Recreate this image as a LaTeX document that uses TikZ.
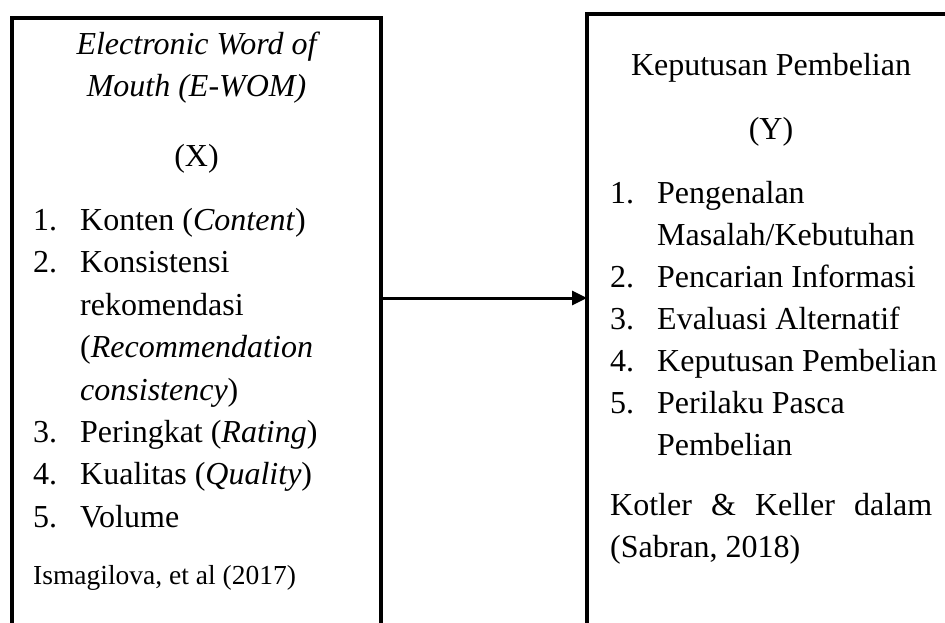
\documentclass[tikz,border=0pt]{standalone}
\usepackage{fontspec}
\setmainfont{Liberation Serif}
\usetikzlibrary{arrows.meta}
\begin{document}
\begin{tikzpicture}[x=1pt,y=-1pt,
  box/.style={draw=black, line width=3.8pt, inner sep=0pt, outer sep=0pt, anchor=north west},
  txt/.style={anchor=base west, inner sep=0pt, font=\fontsize{32}{42}\selectfont},
  ctr/.style={anchor=base, inner sep=0pt, font=\fontsize{32}{42}\selectfont},
  small/.style={anchor=base west, inner sep=0pt, font=\fontsize{27.5}{42}\selectfont},
  conn/.style={line width=3pt, -{Triangle[length=15pt,width=14pt]}}]
\useasboundingbox (0,0) rectangle (945,623);
\clip (0,0) rectangle (945,623);
% boxes
\node[box, minimum width=369pt, minimum height=700pt] (lbox) at (12,18) {};
\node[box, minimum width=500pt, minimum height=700pt] (rbox) at (587,14) {};
% connector
\coordinate (ay) at (0,298);
\draw[conn] (lbox.east |- ay) -- (rbox.west |- ay);
% left box text
\node[ctr] (lt1) at (196.5,55) {\itshape Electronic Word of};
\node[ctr] (lt2) at (196.5,97) {\itshape Mouth (E-WOM)};
\node[ctr] (lt3) at (196.5,167) {(X)};
\node[txt] (ln1) at (33,230) {1.};
\node[txt] (li1) at (80,230) {Konten (\textit{Content})};
\node[txt] (ln2) at (33,272) {2.};
\node[txt] (li2a) at (80,272) {Konsistensi};
\node[txt] (li2b) at (80,315) {rekomendasi};
\node[txt] (li2c) at (80,357) {(\textit{Recommendation}};
\node[txt] (li2d) at (80,400) {\textit{consistency})};
\node[txt] (ln3) at (33,442) {3.};
\node[txt] (li3) at (80,442) {Peringkat (\textit{Rating})};
\node[txt] (ln4) at (33,484) {4.};
\node[txt] (li4) at (80,484) {Kualitas (\textit{Quality})};
\node[txt] (ln5) at (33,527) {5.};
\node[txt] (li5) at (80,527) {Volume};
\node[small] (lsrc) at (33,584) {Ismagilova, et al (2017)};
% right box text
\node[ctr] (rt1) at (771,76) {Keputusan Pembelian};
\node[ctr] (rt2) at (771,140) {(Y)};
\node[txt] (rn1) at (610,203) {1.};
\node[txt] (ri1a) at (657,203) {Pengenalan};
\node[txt] (ri1b) at (657,245) {Masalah/Kebutuhan};
\node[txt] (rn2) at (610,287) {2.};
\node[txt] (ri2) at (657,287) {Pencarian Informasi};
\node[txt] (rn3) at (610,329) {3.};
\node[txt] (ri3) at (657,329) {Evaluasi Alternatif};
\node[txt] (rn4) at (610,371) {4.};
\node[txt] (ri4) at (657,371) {Keputusan Pembelian};
\node[txt] (rn5) at (610,413) {5.};
\node[txt] (ri5a) at (657,413) {Perilaku Pasca};
\node[txt] (ri5b) at (657,455) {Pembelian};
\node[txt] (rsrc1) at (610,515) {\makebox[322pt][s]{Kotler \& Keller dalam}};
\node[txt] (rsrc2) at (610,557) {(Sabran, 2018)};
\end{tikzpicture}
\end{document}
